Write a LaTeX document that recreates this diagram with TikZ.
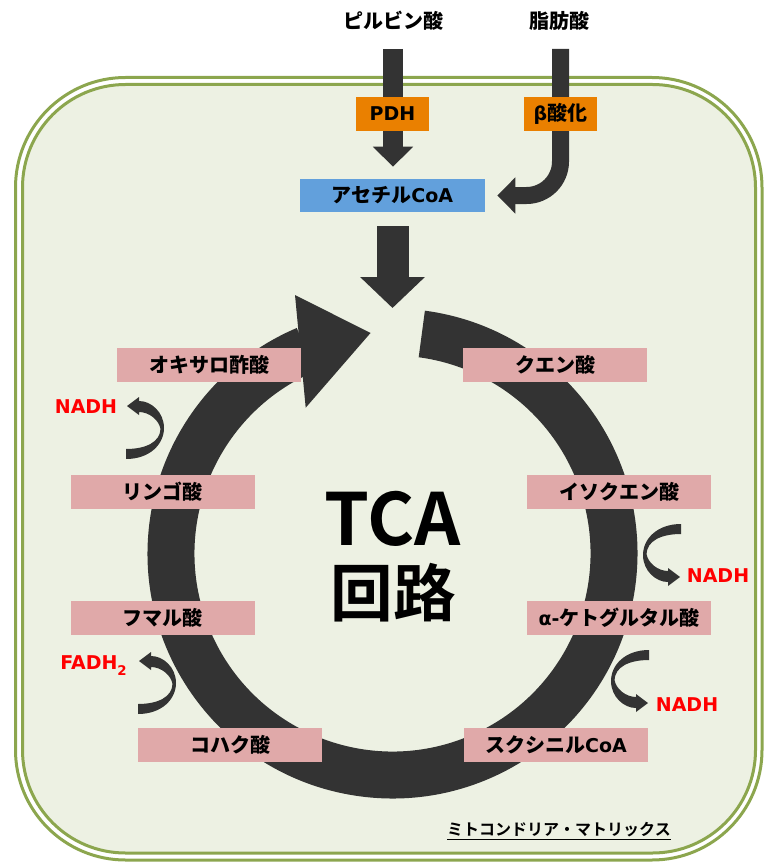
\documentclass[tikz,border=0pt]{standalone}
\usepackage{fontspec}
\setmainfont{DejaVu Sans}
\newfontfamily\jpf{Noto Sans CJK JP Bold}
\usetikzlibrary{arrows.meta,backgrounds}
\definecolor{memline}{HTML}{8CA64E}
\definecolor{matrixbg}{HTML}{EDF1E3}
\definecolor{dark}{HTML}{333333}
\definecolor{pinkbox}{HTML}{E0A9A9}
\definecolor{enzyme}{HTML}{EA8000}
\definecolor{acoa}{HTML}{62A0DC}
\definecolor{redtxt}{HTML}{FF0000}
\newcommand\J[1]{{\jpf\fontsize{15}{18}\selectfont #1}}
\tikzset{
  lbl/.style={font=\bfseries\fontsize{14.25}{17}\selectfont, inner sep=0pt},
  metab/.style={lbl, fill=pinkbox, minimum width=138pt, minimum height=25.5pt},
  enzbox/.style={lbl, fill=enzyme, minimum width=54.75pt, minimum height=25.5pt},
  yld/.style={lbl, text=redtxt},
  cresc/.pic={
    \fill[dark] (0,5) .. controls (24,5) and (38,-10) .. (38,-26)
      .. controls (38,-42) and (25,-53) .. (13,-53) -- (13,-57) -- (1,-48)
      -- (13,-39) -- (13,-42) .. controls (23,-42) and (33,-34) .. (34.5,-25)
      .. controls (34,-12) and (20,-5) .. (0,-5) -- cycle;
  }
}
\begin{document}
\begin{tikzpicture}[x=0.75pt,y=-0.75pt]
\useasboundingbox (0,0) rectangle (765,863);

% substrates entering from the cytosol
\node[lbl] (pyr) at (393,21) {\J{ピルビン酸}};
\node[lbl] (fatty) at (559,21) {\J{脂肪酸}};
\coordinate (pyrtail) at (393,49);
\coordinate (fatail) at (560.5,49);

% enzymes and acetyl-CoA
\node[enzbox] (pdh) at (392.5,114) {PDH};
\node[enzbox] (beta) at (560.5,114) {β\J{酸化}};
\node[lbl, fill=acoa, minimum width=138.75pt, minimum height=24.75pt] (acoa) at (392.5,195.5) {\J{アセチル}CoA};
\coordinate (cycin) at (392.5,308);

% cycle intermediates
\node[metab] (oaa) at (209,364.5) {\J{オキサロ酢酸}};
\node[metab] (cit) at (555,364.5) {\J{クエン酸}};
\node[metab] (mal) at (162.5,492) {\J{リンゴ酸}};
\node[metab] (icit) at (619,492) {\J{イソクエン酸}};
\node[metab] (fum) at (162.5,617.5) {\J{フマル酸}};
\node[metab] (akg) at (619,617.5) {α-\J{ケトグルタル酸}};
\node[metab] (suc) at (230,745) {\J{コハク酸}};
\node[metab] (scoa) at (556,745) {\J{スクシニル}CoA};

% title in the middle of the cycle
\node[font=\jpf\fontsize{54}{60}\selectfont, inner sep=0pt] (tca) at (393,518.5) {TCA};
\node[font=\jpf\fontsize{47}{52}\selectfont, inner sep=0pt] (kairo) at (393,592.5) {回路};

% reduced cofactors
\pic at (126,454) {cresc};
\pic at (138,709) {cresc};
\pic[rotate=180] at (681,529) {cresc};
\pic[rotate=180] at (649,655) {cresc};
\node[yld] (nadh1) at (86,406.5) {NADH};
\node[yld, anchor=base west] (fadh) at (60,669) {FADH\raisebox{-5pt}{\fontsize{10}{10}\selectfont 2}};
\node[yld] (nadh2) at (718,576) {NADH};
\node[yld] (nadh3) at (687,704.5) {NADH};

% compartment caption
\node[font=\jpf\fontsize{12}{14}\selectfont, inner sep=0pt] (mtx) at (559,831) {\underline{ミトコンドリア・マトリックス}};

\begin{scope}[on background layer]
  % mitochondrial inner membrane (double line) and matrix
  \draw[memline, line width=2.25pt, rounded corners=82.5pt] (15.5,77.5) rectangle (762,860);
  \draw[memline, fill=matrixbg, line width=2.25pt, rounded corners=77.25pt] (22.5,84.5) rectangle (755.5,853);

  % feeding arrows
  \draw[dark, line width=14.625pt, -{Triangle[width=29.25pt,length=15pt]}, shorten >=9pt]
    (pyrtail) -- (pyrtail |- acoa.north);
  \draw[dark, line width=12.75pt, rounded corners=25.5pt, -{Triangle[width=26.25pt,length=13.5pt]}, shorten >=9pt]
    (fatail) |- (acoa.east);
  \draw[dark, line width=24pt, -{Triangle[width=47.25pt,length=23.25pt]}, shorten <=10.5pt]
    (acoa.south) -- (cycin);

  % the cycle ring with its arrowhead
  \coordinate (c) at (392.5,553.5);
  \fill[dark] ([shift={(-82.4:245)}]c) arc[start angle=-82.4, end angle=247, radius=245]
    -- ([shift={(247:198)}]c) arc[start angle=247, end angle=-82.4, radius=198] -- cycle;
  \fill[dark] (295,295) -- (370.5,333) -- (305.7,407.7) -- cycle;
\end{scope}
\end{tikzpicture}
\end{document}
